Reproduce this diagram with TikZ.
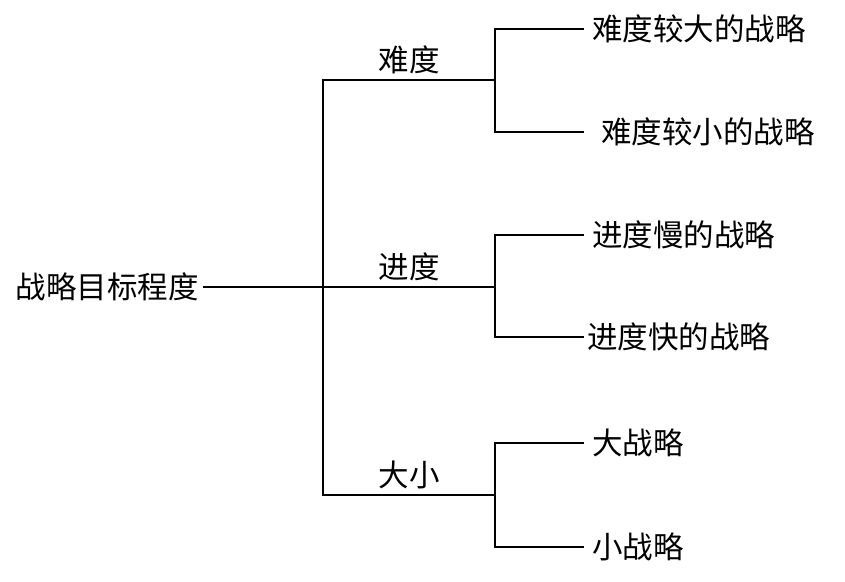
\documentclass[tikz,border=0pt]{standalone}
\usepackage{fontspec}
\setmainfont{Noto Sans CJK SC}
\usetikzlibrary{positioning,calc}
\definecolor{Ink}{HTML}{000000}
\tikzset{
  wire/.style={draw=Ink, line width=2.8pt, line cap=rect},
  label/.style={inner sep=0pt, font=\fontsize{30.5}{30.5}\selectfont, text=Ink},
  leaf/.style={label, anchor=west, inner xsep=9pt},
  edge/.style={label, above=5pt, midway}
}

\begin{document}
\begin{tikzpicture}[x=1pt, y=-1pt]
        \useasboundingbox (0,0) rectangle (845,581);
        \node[label, anchor=east, inner xsep=5pt] (root) at (204,287) {战略目标程度};
        \coordinate (trunk) at (323,287);
        \coordinate (top) at (323,80);
        \coordinate (bot) at (323,495);
        \coordinate (fork1) at (495,80);
        \coordinate (fork2) at (495,287);
        \coordinate (fork3) at (495,495);
        \node[leaf] (hard) at (583,29) {难度较大的战略};
        \node[leaf, inner xsep=0pt] (easy) at (583,132) {\hspace{18pt}难度较小的战略};
        \node[leaf] (slow) at (583,235) {进度慢的战略};
        \node[leaf, inner xsep=4pt] (fast) at (583,337) {进度快的战略};
        \node[leaf] (big) at (583,443) {大战略};
        \node[leaf] (small) at (583,547) {小战略};
        \draw[wire] (root.east) -- (trunk);
        \draw[wire] (top) -- (bot);
        \draw[wire] (top) -- node[edge] (diff) {难度} (fork1);
        \draw[wire] (trunk) -- node[edge] (pace) {进度} (fork2);
        \draw[wire] (bot) -- node[edge] (size) {大小} (fork3);
        \draw[wire] (hard.west) -| (fork1) |- (easy.west);
        \draw[wire] (slow.west) -| (fork2) |- (fast.west);
        \draw[wire] (big.west) -| (fork3) |- (small.west);
      \end{tikzpicture}
\end{document}
